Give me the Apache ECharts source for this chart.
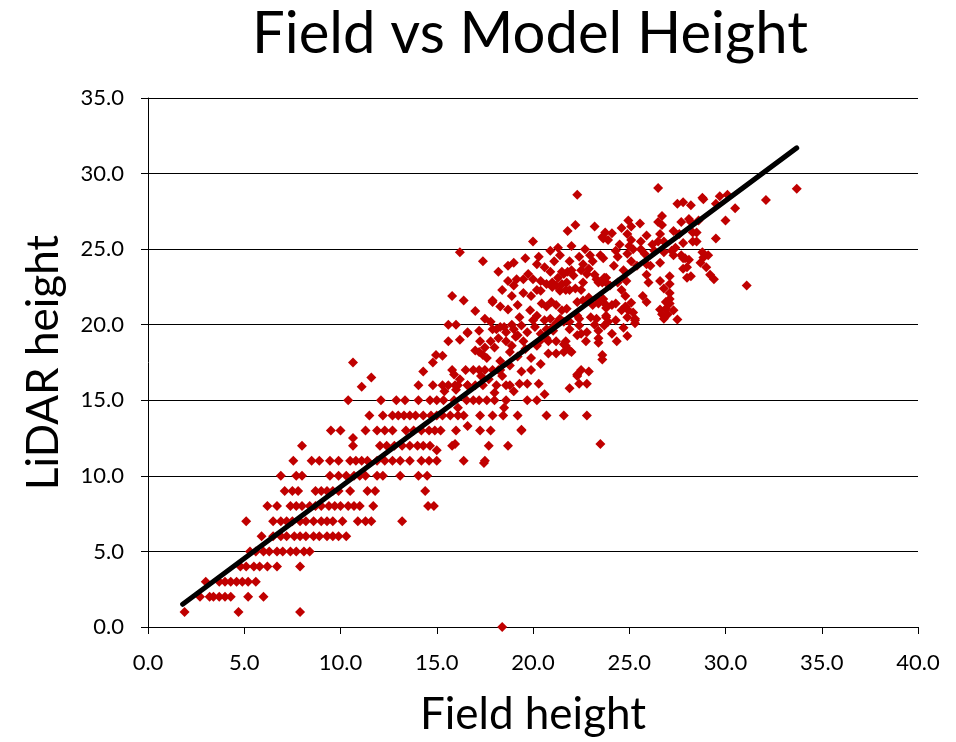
<!DOCTYPE html>
<html>
<head>
<meta charset="utf-8">
<script src="https://cdn.jsdelivr.net/npm/echarts@6/dist/echarts.min.js"></script>
<style>
  html, body { margin: 0; padding: 0; background: #fff; }
  #chart { width: 956px; height: 742px; }
</style>
</head>
<body>
<div id="chart"></div>
<script>
// LiDAR heights recorded at whole-metre steps: field heights for each level
const lidarLevels = [1, 2, 3, 4, 5, 6, 7, 8, 9, 10, 11, 12, 13, 14, 15, 16, 17];
const fieldAtLevel = [
  [1.9, 4.7, 7.9],
  [2.7, 3.2, 3.4, 3.7, 4.0, 4.3, 5.2, 6.0],
  [3.0, 3.7, 4.0, 4.3, 4.6, 4.9, 5.2, 5.6],
  [4.8, 5.1, 5.5, 5.8, 6.2, 6.7, 7.9],
  [5.3, 5.6, 6.0, 6.3, 6.7, 7.0, 7.4, 7.7, 8.1, 8.4],
  [5.9, 6.5, 6.9, 7.2, 7.6, 7.9, 8.2, 8.6, 8.9, 9.3, 9.6, 9.9, 10.3],
  [5.1, 6.5, 6.9, 7.2, 7.5, 7.9, 8.2, 8.6, 9.0, 9.3, 9.6, 10.1, 10.9, 11.3, 11.6, 13.2],
  [6.2, 6.7, 7.4, 7.7, 8.0, 8.4, 8.7, 9.0, 9.4, 9.7, 10.0, 10.4, 10.7, 11.0, 11.7, 14.55, 14.85],
  [7.1, 7.5, 7.8, 8.7, 9.0, 9.3, 9.6, 9.9, 10.5, 11.4, 11.8, 14.4],
  [6.9, 7.7, 8.0, 9.45, 9.9, 10.3, 10.7, 11.0, 11.3, 11.9, 12.2, 13.1, 14.05, 14.5],
  [7.55, 8.5, 8.9, 9.45, 9.9, 10.5, 10.8, 11.1, 11.4, 11.9, 12.3, 12.7, 13.1, 13.6, 14.2, 14.6, 15.0, 16.4, 17.5],
  [8.0, 10.65, 12.05, 12.4, 12.8, 13.2, 13.6, 14.0, 14.3, 14.65, 15.8, 17.7, 18.7],
  [9.5, 10.0, 11.3, 11.9, 12.3, 12.7, 13.4, 13.8, 14.2, 14.6, 14.9, 15.2, 16.0, 17.25, 17.8, 19.4],
  [11.5, 12.2, 12.7, 13.0, 13.3, 13.6, 13.9, 14.3, 14.7, 15.0, 15.3, 15.7, 16.1, 16.4, 17.25, 17.9, 18.45],
  [10.4, 12.1, 12.9, 13.35, 14.05, 14.65, 15.0, 15.35, 15.9, 16.55, 16.9, 17.2, 17.6, 18.0, 18.6],
  [14.05, 14.8, 15.6, 15.95, 16.1, 16.6, 17.0, 17.4, 18.8],
  [15.8, 16.5, 16.9, 17.2, 17.5, 17.9, 18.3]
];

// Remaining plots as [field height, LiDAR height]
const plotsLower = [
  [18.4, 0.0], [10.65, 17.5], [11.6, 16.5], [11.1, 15.9], [10.65, 12.5],
  [15.95, 12.1], [17.45, 10.85], [15.0, 11.7], [16.6, 13.3], [16.1, 14.5],
  [19.4, 13.05], [19.2, 14.0], [20.7, 14.0], [21.6, 14.0], [22.8, 14.0],
  [23.5, 12.1], [18.5, 14.5], [19.7, 15.0], [20.2, 15.0], [18.0, 15.5],
  [18.1, 16.0], [18.6, 16.0], [19.3, 16.1], [19.7, 16.1], [20.3, 16.1],
  [21.9, 15.8], [22.4, 16.1], [22.8, 16.1], [22.3, 16.7], [22.5, 17.0],
  [22.9, 16.9], [15.4, 15.6], [16.0, 15.7], [15.3, 16.0], [16.6, 16.0],
  [17.3, 16.6], [18.4, 16.6], [16.2, 16.4], [19.0, 15.6], [20.6, 15.4]
];
const plotsMiddle = [
  [14.3, 16.9], [14.8, 17.5], [14.96, 18.0], [15.3, 17.95], [15.6, 18.9],
  [16.2, 19.0], [16.6, 19.5], [17.25, 18.9], [17.2, 18.2], [17.5, 18.5],
  [17.4, 18.0], [15.6, 20.0], [16.0, 20.0], [16.6, 19.45], [15.8, 21.9],
  [16.4, 21.6], [16.2, 24.8], [17.4, 24.2], [17.0, 20.9], [17.0, 18.3],
  [15.9, 16.7], [17.6, 17.8], [18.0, 18.5], [18.3, 17.6], [18.8, 18.2],
  [19.2, 17.9], [19.9, 17.8], [19.4, 16.9], [19.9, 17.0], [18.2, 17.0],
  [18.8, 17.3], [17.7, 16.4], [20.4, 17.4], [20.8, 18.1], [21.2, 18.1],
  [21.6, 18.2], [21.9, 18.3], [21.7, 18.6], [22.0, 18.2], [23.6, 18.0],
  [23.6, 17.7], [22.3, 16.6], [17.9, 21.6], [18.2, 23.5], [18.7, 23.9],
  [18.7, 22.9], [19.15, 23.0], [19.5, 23.0], [19.75, 23.35], [20.0, 25.5],
  [18.7, 21.0], [19.5, 22.1], [19.85, 20.95], [19.3, 20.5], [18.1, 19.7],
  [18.5, 19.85], [18.9, 20.0], [17.9, 19.7], [18.3, 19.85], [18.6, 19.5],
  [19.0, 19.7], [19.4, 19.95], [19.7, 19.5], [18.2, 19.1], [18.6, 18.9],
  [19.1, 19.2], [19.5, 18.9], [19.9, 21.9], [17.9, 21.5], [20.3, 24.5],
  [20.2, 24.0], [20.9, 23.5], [20.7, 22.7], [21.0, 22.5], [21.2, 22.6],
  [21.4, 22.25], [21.6, 23.35], [21.8, 23.5], [22.1, 23.25], [21.75, 22.8],
  [21.5, 22.7], [21.9, 22.3], [20.4, 22.25], [20.45, 21.4], [20.7, 21.2],
  [20.95, 21.5], [21.2, 21.3], [21.5, 20.95], [21.75, 21.05], [20.2, 20.6],
  [20.6, 20.3], [20.9, 20.4], [21.2, 20.1], [21.6, 20.2], [20.1, 19.85],
  [20.4, 19.4], [20.7, 19.7], [21.05, 19.6], [21.9, 19.7], [20.7, 19.1],
  [21.2, 18.9], [21.6, 18.7], [20.35, 18.9], [20.8, 18.9], [21.7, 18.9],
  [21.9, 24.2], [21.8, 26.2], [20.2, 22.3], [20.4, 22.9], [21.0, 22.8],
  [21.3, 23.1], [21.5, 23.5], [22.0, 23.6], [19.2, 19.3], [20.0, 20.3],
  [18.9, 21.9], [19.2, 21.3], [18.4, 22.3], [19.0, 22.6], [20.0, 23.0],
  [20.6, 23.8], [21.1, 24.2], [21.4, 24.6], [20.9, 24.9], [21.3, 25.1],
  [19.6, 24.4], [19.0, 24.1], [18.3, 21.2], [17.5, 20.4], [17.8, 20.2],
  [17.2, 19.6], [18.9, 18.6], [19.6, 18.4], [20.2, 18.6], [17.8, 18.9]
];
const plotsUpper = [
  [22.3, 28.6], [22.7, 25.0], [22.96, 24.6], [23.5, 24.6], [23.65, 24.4],
  [23.2, 26.5], [23.75, 26.1], [24.1, 26.05], [23.65, 25.7], [23.6, 25.8],
  [23.9, 25.6], [22.5, 23.6], [22.8, 23.35], [23.3, 23.0], [23.6, 22.8],
  [23.8, 23.1], [22.9, 23.7], [23.2, 23.3], [23.4, 22.8], [23.7, 23.1],
  [22.2, 22.4], [22.5, 22.3], [21.7, 22.3], [23.8, 22.8], [24.0, 22.6],
  [24.4, 22.8], [24.85, 22.9], [24.6, 22.3], [22.3, 21.5], [22.6, 21.6],
  [22.9, 21.8], [23.1, 21.3], [23.4, 21.4], [23.65, 21.7], [23.3, 21.7],
  [23.8, 21.1], [24.3, 21.4], [24.8, 21.2], [22.4, 20.4], [23.0, 20.5],
  [23.3, 20.4], [23.8, 20.5], [22.3, 20.6], [21.9, 20.2], [21.4, 20.4],
  [21.0, 19.8], [23.2, 20.0], [22.4, 19.95], [22.8, 19.5], [23.4, 19.6],
  [23.7, 19.95], [22.5, 19.4], [24.1, 19.4], [24.7, 19.8], [23.4, 19.1],
  [23.4, 18.8], [22.75, 18.9], [22.3, 19.3], [23.8, 21.3], [24.1, 21.3],
  [24.6, 20.95], [24.95, 20.95], [24.9, 20.5], [25.3, 20.3], [25.3, 20.1],
  [23.8, 20.6], [23.9, 20.2], [24.3, 20.3], [24.35, 18.9], [24.9, 19.25],
  [24.9, 24.7], [25.2, 25.0], [25.6, 25.0], [25.8, 24.7], [26.2, 25.3],
  [25.1, 24.2], [25.4, 23.9], [25.9, 24.0], [24.4, 24.5], [24.2, 23.9],
  [24.95, 26.9], [25.1, 26.5], [24.9, 26.0], [25.1, 25.6], [25.0, 25.2],
  [25.56, 26.7], [25.9, 25.9], [25.6, 25.5], [26.6, 26.0], [26.5, 25.5],
  [26.8, 25.5], [28.3, 26.1], [27.8, 25.4], [28.3, 25.5], [29.5, 25.7],
  [26.5, 29.05], [28.85, 28.3], [27.5, 28.0], [27.8, 28.1], [28.2, 27.9],
  [29.5, 28.0], [26.7, 27.2], [26.5, 26.8], [27.7, 26.8], [28.2, 26.8],
  [28.6, 26.9], [26.6, 24.1], [26.3, 24.9], [26.8, 24.8], [27.2, 24.9],
  [27.7, 24.6], [27.4, 25.1], [27.9, 24.4], [28.0, 23.8], [27.8, 23.7],
  [28.8, 24.8], [28.7, 24.1], [29.2, 23.3], [26.1, 23.9], [25.9, 23.3],
  [26.0, 22.8], [26.6, 22.9], [27.1, 23.2], [27.1, 22.1], [25.7, 21.9],
  [24.8, 21.9], [25.2, 20.8], [25.3, 20.4], [26.6, 21.0], [26.7, 20.7],
  [26.9, 21.5], [27.1, 21.4], [25.9, 21.5], [25.1, 21.45], [26.9, 21.05],
  [27.3, 20.95], [27.0, 20.7], [26.8, 20.4], [27.5, 20.35], [27.1, 21.7],
  [30.0, 26.9], [30.5, 27.7], [32.1, 28.25], [33.7, 29.0], [31.1, 22.6],
  [29.4, 23.0], [29.0, 23.8], [28.85, 24.45], [29.1, 24.6], [28.5, 25.5],
  [28.5, 26.1], [28.1, 27.0], [28.8, 28.4], [29.7, 28.5], [30.1, 28.6],
  [26.7, 26.6], [27.3, 26.2], [27.6, 26.0], [28.1, 24.3], [27.8, 24.4],
  [27.3, 24.6], [28.0, 23.1], [28.2, 23.2], [26.8, 22.4], [27.1, 22.7],
  [22.0, 25.2], [22.4, 24.5], [24.5, 25.3], [24.7, 23.6], [22.6, 22.8],
  [22.6, 24.0], [23.1, 24.2], [24.3, 24.9], [22.2, 26.6], [24.6, 26.4]
];

// Fitted trend line end points
const trendField = [1.8, 33.7];
const trendLidar = [1.5, 31.7];

// Axis ticks
const xTicks = { min: 0, max: 40, step: 5 };
const yTicks = { min: 0, max: 35, step: 5 };

const points = [];
lidarLevels.forEach((lvl, i) => {
  fieldAtLevel[i].forEach(f => points.push([f, lvl]));
});
plotsLower.concat(plotsMiddle, plotsUpper).forEach(p => points.push(p));

const FONT = "Lato, 'Open Sans', 'Noto Sans', sans-serif";

const chart = echarts.init(document.getElementById('chart'), null, { renderer: 'canvas' });
chart.setOption({
  animation: false,
  backgroundColor: '#ffffff',
  title: {
    text: 'Field vs Model Height',
    left: 525,
    textAlign: 'center',
    top: 0,
    textStyle: { fontFamily: FONT, fontSize: 58, fontWeight: 'normal', color: '#000' }
  },
  grid: { left: 148, right: 38, top: 98, bottom: 111 },
  xAxis: {
    type: 'value',
    min: xTicks.min, max: xTicks.max, interval: xTicks.step,
    name: 'Field height',
    nameLocation: 'middle',
    nameGap: 66,
    nameTextStyle: { fontFamily: FONT, fontSize: 44, color: '#000' },
    axisLine: { show: true, onZero: false, lineStyle: { color: '#000', width: 1 } },
    axisTick: { show: true, inside: false, length: 7, lineStyle: { color: '#000' } },
    axisLabel: { margin: 25, fontFamily: FONT, fontSize: 22, color: '#000', formatter: v => v.toFixed(1) },
    splitLine: { show: false }
  },
  yAxis: {
    type: 'value',
    min: yTicks.min, max: yTicks.max, interval: yTicks.step,
    name: 'LiDAR height',
    nameLocation: 'middle',
    nameGap: 82,
    nameTextStyle: { fontFamily: FONT, fontSize: 44, color: '#000' },
    axisLine: { show: true, onZero: false, lineStyle: { color: '#000', width: 1 } },
    axisTick: { show: true, inside: false, length: 7, lineStyle: { color: '#000' } },
    axisLabel: { margin: 24, fontFamily: FONT, fontSize: 22, color: '#000', formatter: v => v.toFixed(1) },
    splitLine: { show: true, lineStyle: { color: '#000', width: 1 } }
  },
  series: [
    {
      type: 'scatter',
      data: points,
      symbol: 'diamond',
      symbolSize: [10, 10],
      itemStyle: { color: '#C00000', opacity: 1 },
      z: 2
    },
    {
      type: 'line',
      data: [[trendField[0], trendLidar[0]], [trendField[1], trendLidar[1]]],
      symbol: 'none',
      lineStyle: { color: '#000', width: 5, cap: 'round' },
      z: 3
    }
  ]
});
</script>
</body>
</html>
